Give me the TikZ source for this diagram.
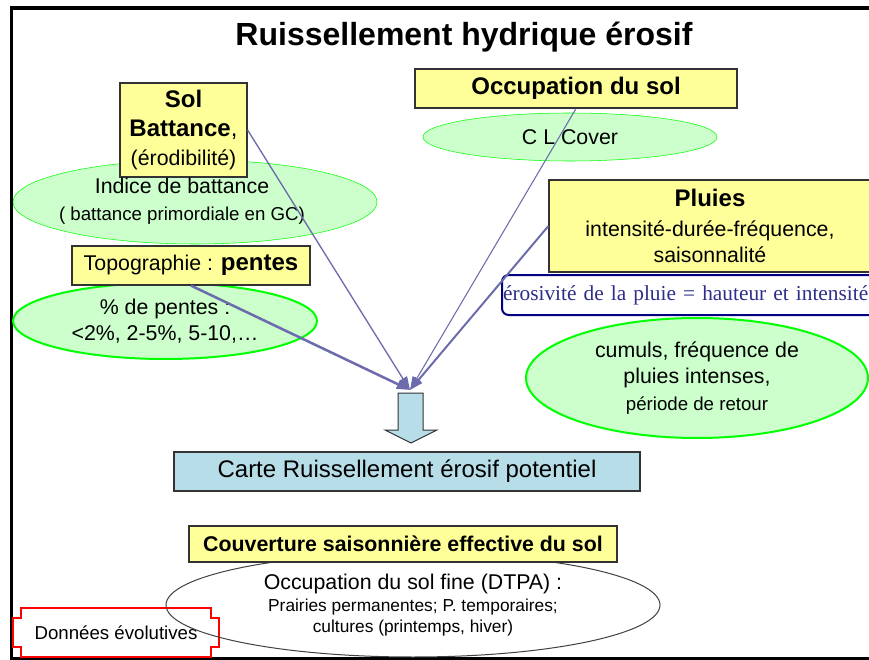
\documentclass[tikz,border=0pt]{standalone}
\usepackage{fontspec}
\setmainfont{Liberation Sans}
\newfontfamily\timesfont{Liberation Serif}
\usetikzlibrary{positioning, shapes.geometric, arrows.meta, calc}

\definecolor{boxyellow}{HTML}{FFFF99}
\definecolor{ellgreen}{HTML}{CCFFCC}
\definecolor{linegreen}{HTML}{00FF00}
\definecolor{slate}{HTML}{6C6CAC}
\definecolor{cartblue}{HTML}{B7DEE8}
\definecolor{navyblue}{HTML}{000080}
\definecolor{erotext}{HTML}{2E2E8A}
\newcommand{\fsz}[2]{\fontsize{#1}{#2}\selectfont}

\begin{document}
\begin{tikzpicture}[x=0.75pt, y=-0.75pt,
    ybox/.style={rectangle, draw=black!80, fill=boxyellow, line width=0.9pt,
      inner sep=0pt, align=center},
    gell/.style={ellipse, draw=linegreen, fill=ellgreen, inner sep=0pt, align=center},
    feed/.style={draw=slate, -{Triangle[length=10pt,width=7pt]}}]

    \useasboundingbox (0,0) rectangle (869,660);
    \draw[line width=2.6pt] (11.5,8) rectangle (880,658.5);

    \node[anchor=base, font=\bfseries\fsz{24}{28}] (title) at (464,46)
      {Ruissellement hydrique érosif};

    % sol
    \node[gell, minimum width=273pt, minimum height=63pt] (bat) at (195,202) {};
    \node[ybox, minimum width=95.25pt, minimum height=70.5pt, font=\fsz{16}{21.5}] (sol) at (183.5,130)
      {{\bfseries\fsz{18}{21.5}Sol}\\{\bfseries\fsz{18}{21.5}Battance}{\fsz{18}{21.5},}\\(érodibilité)};
    \node[align=center, font=\fsz{16}{20}] (batT) at (182,201)
      {Indice de battance\\{\fsz{14}{20}( battance primordiale en GC)}};

    % pentes
    \node[gell, line width=1.5pt, minimum width=228pt, minimum height=57pt, font=\fsz{16}{20}] (pen) at (165,321)
      {\% de pentes :\\<2\%, 2-5\%, 5-10,\ldots};
    \node[ybox, minimum width=178.5pt, minimum height=29.25pt] (topo) at (191,265.5)
      {{\fsz{16}{19}Topographie : }{\bfseries\fsz{18}{21}pentes}};

    % occupation
    \node[gell, minimum width=220.5pt, minimum height=36pt, font=\fsz{16}{19}] (clc) at (570,137) {C L Cover};
    \node[ybox, minimum width=241.5pt, minimum height=29.25pt, font=\bfseries\fsz{18}{21}] (occ) at (576,88.5)
      {Occupation du sol};

    % pluies
    \node[ybox, minimum width=241.5pt, minimum height=69pt, font=\fsz{16}{19}] (pluies) at (710,226)
      {{\bfseries\fsz{18}{21}Pluies}\\[3.5pt]intensité-durée-fréquence,\\saisonnalité};
    \node[draw=navyblue, line width=1.5pt, rounded corners=5pt, fill=white, anchor=west,
      text width=279pt, align=left, inner xsep=0.8pt, inner ysep=0pt, minimum height=30pt,
      text=erotext, font=\timesfont\fsz{16}{19}] (ero) at (501,295)
      {érosivité de la pluie = hauteur et intensité};
    \node[gell, line width=1.5pt, minimum width=256.5pt, minimum height=90pt, font=\fsz{16}{20}] (cum) at (697,378)
      {cumuls, fréquence de\\pluies intenses,\\{\fsz{14}{19.5}période de retour}};

    % convergence
    \coordinate (hub) at (410,390);
    \draw[feed, line width=1pt] (sol.east) -- (hub);
    \draw[feed, line width=1.9pt] (topo.south) -- (hub);
    \draw[feed, line width=0.8pt] (occ.south) -- (hub);
    \draw[feed, line width=1.5pt] (pluies.west) -- (hub);

    \draw[draw=black!80, fill=cartblue, line width=0.75pt]
      (398,393) -- (423,393) -- (423,430) -- (437,430) -- (411,443) -- (385,430) -- (398,430) -- cycle;
    \node[rectangle, draw=black!80, fill=cartblue, line width=0.9pt, minimum width=349.5pt,
      minimum height=29.25pt, font=\fsz{18}{21}] (carte) at (407,471.5)
      {Carte Ruissellement érosif potentiel};

    % donnees evolutives
    \node[minimum width=154.5pt, minimum height=36.75pt, inner sep=0pt, font=\fsz{14}{17}] (don) at (116,632.5)
      {Données évolutives};
    \draw[red, line width=1.5pt]
      ($(don.north west)+(8,0)$) -- ($(don.north east)+(-8,0)$) -- ++(0,10) -- ++(8,0)
      -- ($(don.south east)+(0,-10)$) -- ++(-8,0) -- ++(0,10) -- ($(don.south west)+(8,0)$)
      -- ++(0,-10) -- ++(-8,0) -- ($(don.north west)+(0,10)$) -- ++(8,0) -- cycle;

    \node[ellipse, draw=black!75, line width=0.75pt, inner sep=0pt, minimum width=370.5pt,
      minimum height=78pt, align=center, font=\fsz{13}{16}] (fine) at (413,605)
      {{\fsz{16}{19}Occupation du sol fine (DTPA) :}\\[0.5pt]Prairies permanentes; P. temporaires;\\cultures (printemps, hiver)};
    \node[ybox, minimum width=321pt, minimum height=27pt, font=\bfseries\fsz{16}{19}] (couv) at (403,544)
      {Couverture saisonnière effective du sol};
\end{tikzpicture}
\end{document}
